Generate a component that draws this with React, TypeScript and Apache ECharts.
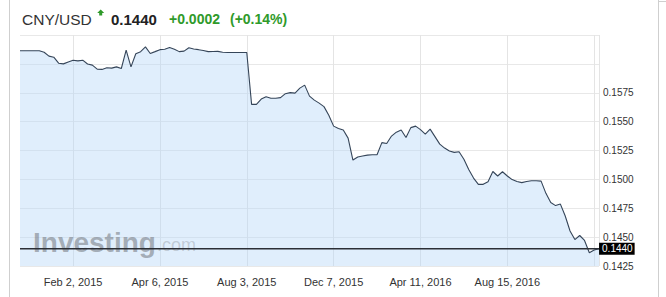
import React, { useEffect, useRef } from "react";
import * as echarts from "echarts";

const values: number[] = [
  0.16113, 0.16113, 0.16113, 0.16113, 0.16113, 0.16101, 0.16067, 0.16058, 0.16006, 0.16000,
  0.16017, 0.16032, 0.16026, 0.16032, 0.15999, 0.15989, 0.15954, 0.15952, 0.15966, 0.15963,
  0.15974, 0.15960, 0.16119, 0.15974, 0.16088, 0.16106, 0.16147, 0.16090, 0.16106, 0.16123,
  0.16127, 0.16142, 0.16127, 0.16106, 0.16110, 0.16139, 0.16129, 0.16123, 0.16116, 0.16106,
  0.16107, 0.16108, 0.16100, 0.16099, 0.16099, 0.16099, 0.16099, 0.16099, 0.15649, 0.15649,
  0.15695, 0.15716, 0.15703, 0.15703, 0.15708, 0.15742, 0.15751, 0.15747, 0.15790, 0.15816,
  0.15721, 0.15686, 0.15660, 0.15630, 0.15556, 0.15461, 0.15440, 0.15427, 0.15357, 0.15167,
  0.15193, 0.15202, 0.15210, 0.15213, 0.15213, 0.15318, 0.15310, 0.15375, 0.15409, 0.15427,
  0.15362, 0.15448, 0.15461, 0.15431, 0.15392, 0.15435, 0.15370, 0.15305, 0.15271, 0.15245,
  0.15234, 0.15239, 0.15174, 0.15085, 0.15011, 0.14957, 0.14957, 0.14979, 0.15068, 0.15029,
  0.15066, 0.15029, 0.14998, 0.14981, 0.14972, 0.14981, 0.14988, 0.14988, 0.14985, 0.14879,
  0.14799, 0.14773, 0.14786, 0.14683, 0.14553, 0.14479, 0.14514, 0.14471, 0.14365, 0.14388,
  0.14400,
];

const categories: string[] = values.map((_, i) => String(i));

const labelIndices: number[] = [11, 29, 47, 65, 83, 101];
const labelTexts: string[] = [
  "Feb 2, 2015",
  "Apr 6, 2015",
  "Aug 3, 2015",
  "Dec 7, 2015",
  "Apr 11, 2016",
  "Aug 15, 2016",
];
const extraGridIndices: number[] = [119, 120];

const yMin = 0.1425;
const yMax = 0.1625;
const yStep = 0.0025;
const yLabelMax = 0.158;

const lastValue = 0.144;
const lastLabel = "0.1440";
const headerSymbol = "CNY/USD";
const headerPrice = "0.1440";
const headerChange = "+0.0002";
const headerPct = "(+0.14%)";

const FONT = "'Liberation Sans', Arial, sans-serif";
const GREEN = "#2f9a2a";

export default function App() {
  const ref = useRef<HTMLDivElement>(null);

  useEffect(() => {
    if (!ref.current) return;
    const chart = echarts.init(ref.current, undefined, { renderer: "svg" });
    const labelMap: Record<number, string> = {};
    labelIndices.forEach((idx, k) => (labelMap[idx] = labelTexts[k]));
    const gridSet = new Set<number>([...labelIndices, ...extraGridIndices]);

    const lastIdx = values.length - 1;
    const priceLine: any[] = values.map(() => null);
    priceLine[0] = lastValue;
    priceLine[lastIdx] = {
      value: lastValue,
      label: {
        show: true,
        position: "right",
        distance: 0,
        formatter: lastLabel,
        color: "#fff",
        backgroundColor: "#000",
        fontSize: 10,
        fontFamily: FONT,
        lineHeight: 10,
        padding: [1, 2, 1, 3],
      },
    };

    chart.setOption({
      animation: false,
      backgroundColor: "#ffffff",
      textStyle: { fontFamily: FONT },
      grid: { left: 20, top: 35, width: 579, height: 231, containLabel: false },
      xAxis: {
        type: "category",
        data: categories,
        boundaryGap: false,
        axisLine: { show: false },
        axisTick: { show: false },
        axisLabel: {
          interval: (i: number) => labelMap[i] !== undefined,
          formatter: (_v: string, i: number) => labelMap[i] ?? "",
          color: "#333",
          fontSize: 11,
          fontFamily: FONT,
          margin: 10,
        },
        splitLine: {
          show: true,
          interval: (i: number) => gridSet.has(i),
          lineStyle: { color: "#e4e4e4", width: 1 },
        },
      },
      yAxis: {
        type: "value",
        position: "right",
        min: yMin,
        max: yMax,
        interval: yStep,
        axisLine: { show: false },
        axisTick: { show: false },
        axisLabel: {
          formatter: (v: number) => (v > yLabelMax ? "" : v.toFixed(4)),
          color: "#333",
          fontSize: 10,
          fontFamily: FONT,
          margin: 4,
        },
        splitLine: { show: true, lineStyle: { color: "#e8e8e8", width: 1 } },
      },
      graphic: [
        { type: "line", shape: { x1: 9.5, y1: 0, x2: 9.5, y2: 297 }, style: { stroke: "#cfcfcf", lineWidth: 1 } },
        { type: "line", shape: { x1: 658.5, y1: 0, x2: 658.5, y2: 297 }, style: { stroke: "#cfcfcf", lineWidth: 1 } },
        { type: "line", shape: { x1: 658, y1: 1.5, x2: 666, y2: 1.5 }, style: { stroke: "#cfcfcf", lineWidth: 1 } },
        {
          type: "text", x: 22, y: 19,
          style: { text: headerSymbol, font: `15.5px ${FONT}`, fill: "#333", textVerticalAlign: "middle" },
        },
        {
          type: "polygon",
          shape: { points: [[100.7, 9.5], [104.2, 13], [102.2, 13], [102.2, 15.5], [99.2, 15.5], [99.2, 13], [97.2, 13]] },
          style: { fill: GREEN },
        },
        {
          type: "text", x: 111, y: 19,
          style: { text: headerPrice, font: `bold 15px ${FONT}`, fill: "#222", textVerticalAlign: "middle" },
        },
        {
          type: "text", x: 169, y: 19,
          style: { text: headerChange, font: `bold 14px ${FONT}`, fill: GREEN, textVerticalAlign: "middle" },
        },
        {
          type: "text", x: 230, y: 19,
          style: { text: headerPct, font: `bold 14px ${FONT}`, fill: GREEN, textVerticalAlign: "middle" },
        },
        {
          type: "text", x: 33, y: 256, z: 3,
          style: { text: "Investing", font: `bold 28px ${FONT}`, fill: "rgba(105,108,115,0.5)", textVerticalAlign: "bottom" },
        },
        {
          type: "text", x: 157, y: 254, z: 3,
          style: { text: ".com", font: `18px ${FONT}`, fill: "rgba(115,118,125,0.3)", textVerticalAlign: "bottom" },
        },
      ],
      series: [
        {
          type: "line",
          data: values,
          showSymbol: false,
          z: 2,
          lineStyle: { color: "#354559", width: 1.1 },
          areaStyle: { color: "rgba(180,214,248,0.6)", origin: "start" },
        },
        {
          type: "line",
          data: priceLine,
          connectNulls: true,
          z: 5,
          silent: true,
          showSymbol: true,
          symbol: "circle",
          symbolSize: 0.1,
          itemStyle: { color: "rgba(0,0,0,0)" },
          lineStyle: { color: "#2b2f36", width: 1.5 },
        },
      ],
    });
    return () => chart.dispose();
  }, []);

  return (
    <div
      ref={ref}
      style={{ position: "fixed", left: 0, top: 0, width: 666, height: 297 }}
    />
  );
}
